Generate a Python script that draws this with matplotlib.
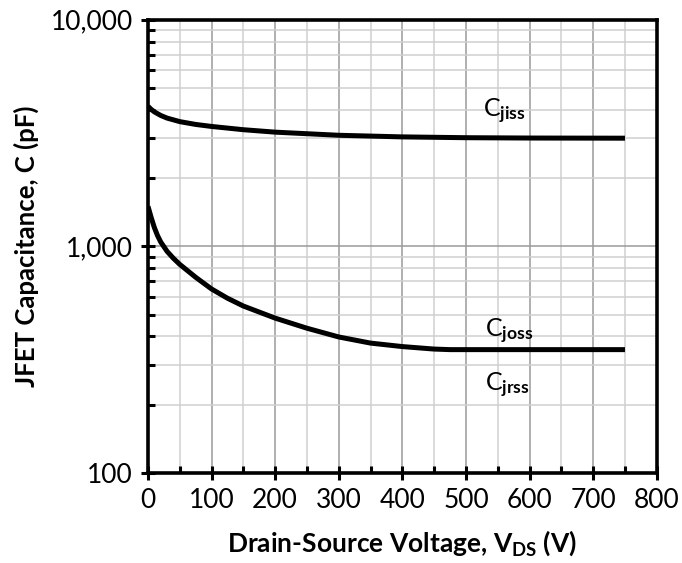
import numpy as np
import matplotlib.pyplot as plt
from matplotlib.ticker import FixedLocator, FuncFormatter, LogLocator, NullFormatter

plt.rcParams['font.family'] = ['Lato', 'DejaVu Sans']
plt.rcParams['mathtext.fontset'] = 'custom'
plt.rcParams['mathtext.rm'] = 'Lato:bold'
plt.rcParams['mathtext.it'] = 'Lato:bold'
plt.rcParams['mathtext.bf'] = 'Lato:bold'

# values
vds_iss = [0, 5, 10, 20, 30, 50, 75, 100, 150, 200, 300, 400, 500, 600, 750]
c_jiss = [4150, 4020, 3920, 3780, 3680, 3550, 3450, 3380, 3270, 3190, 3090, 3040, 3015, 3005, 3000]

vds_oss = [0, 5, 10, 15, 20, 30, 40, 50, 75, 100, 125, 150, 200, 250, 300, 350, 400, 450, 475, 750]
c_joss = [1500, 1340, 1210, 1115, 1045, 950, 885, 832, 730, 648, 590, 545, 482, 435, 398, 374, 361, 352, 350, 350]

labels = ['C$_{\\mathrm{jiss}}$', 'C$_{\\mathrm{joss}}$', 'C$_{\\mathrm{jrss}}$']
label_x = [527, 530, 530]
label_y = [3730, 398, 230]

fig = plt.figure(figsize=(6.82, 5.63), dpi=100)
ax = fig.add_axes([0.217, 0.16, 0.746, 0.805])

ax.plot(vds_iss, c_jiss, color='black', lw=3.6, solid_capstyle='butt', solid_joinstyle='round')
ax.plot(vds_oss, c_joss, color='black', lw=3.6, solid_capstyle='butt', solid_joinstyle='round')

for t, x, y in zip(labels, label_x, label_y):
	ax.text(x, y, t, fontsize=18, ha='left', va='baseline')

ax.set_yscale('log')
ax.set_xlim(0, 800)
ax.set_ylim(100, 10000)

ax.xaxis.set_major_locator(FixedLocator(np.arange(0, 801, 100)))
ax.xaxis.set_minor_locator(FixedLocator(np.arange(50, 800, 100)))
ax.yaxis.set_major_locator(FixedLocator([100, 1000, 10000]))
ax.yaxis.set_minor_locator(LogLocator(base=10, subs=np.arange(2, 10)))
ax.yaxis.set_major_formatter(FuncFormatter(lambda v, p: '{:,.0f}'.format(v)))
ax.yaxis.set_minor_formatter(NullFormatter())

ax.grid(which='major', color='#9a9a9a', lw=1.1)
ax.grid(which='minor', color='#cfcfcf', lw=1.1)
ax.set_axisbelow(True)

for s in ax.spines.values():
	s.set_linewidth(2.6)
	s.set_color('black')

ax.tick_params(which='major', direction='inout', length=10, width=2.2, labelsize=19, color='black', pad=6)
ax.tick_params(which='minor', direction='in', length=5, width=2.2, color='black')

ax.set_xlabel('Drain-Source Voltage, V$_{\\mathrm{DS}}$ (V)', fontsize=19, fontweight='bold', labelpad=11)
ax.set_ylabel('JFET Capacitance, C (pF)', fontsize=18.5, fontweight='bold', labelpad=8)

plt.savefig('out.png', dpi=100)
plt.close()
